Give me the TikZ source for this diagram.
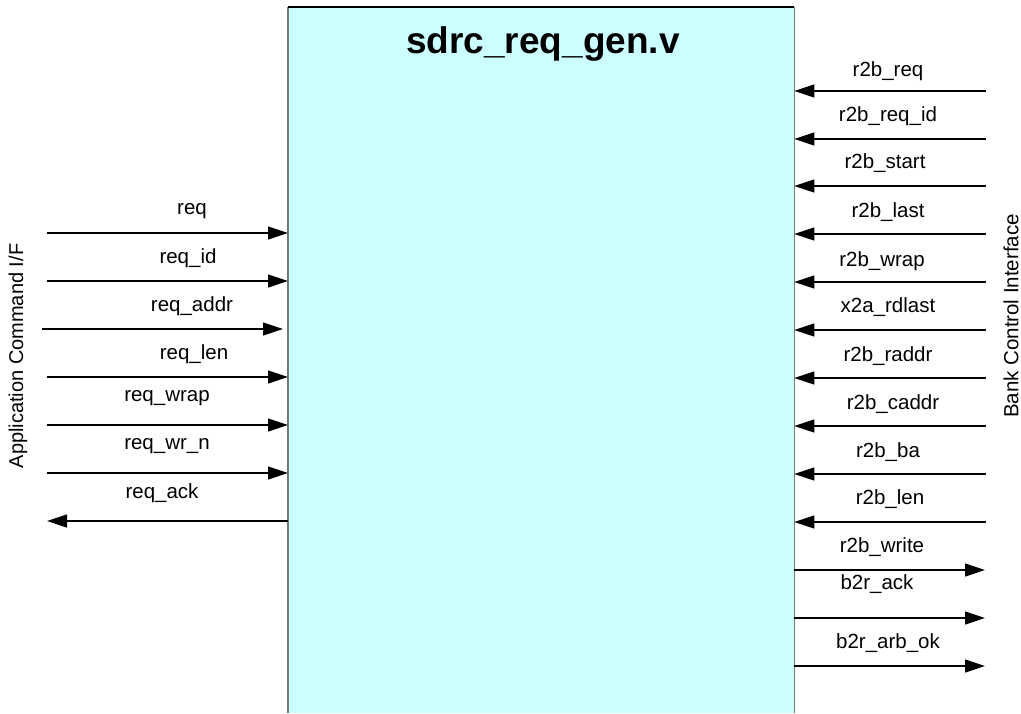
\documentclass[tikz,border=0pt]{standalone}
\usepackage{fontspec}
\setmainfont{Liberation Sans}
\usetikzlibrary{arrows.meta}
\definecolor{blkfill}{HTML}{CCFFFF}
\definecolor{blkedge}{HTML}{6F7B7B}
\begin{document}
\begin{tikzpicture}[x=1pt,y=-1pt,
  sig/.style={line width=1.2pt,-{Triangle[length=20pt,width=13pt]}},
  lbl/.style={font=\fontsize{20.5}{24}\selectfont,inner sep=0pt},
  side/.style={font=\fontsize{20.5}{24}\selectfont,inner sep=0pt,rotate=90}]
\useasboundingbox (0,0) rectangle (1021,713);
\node[fill=blkfill,draw=none,inner sep=0pt,minimum width=506pt,minimum height=706pt,anchor=north west] (blk) at (288,7) {};
\draw[blkedge,line width=1.5pt] (blk.south west) -- (blk.north west);
\draw[blkedge,line width=1.5pt] (blk.south east) -- (blk.north east);
\draw[black,line width=1.5pt] (blk.north west) -- (blk.north east);
\node[font=\fontsize{37}{40}\selectfont\bfseries,inner sep=0pt] (title) at (543,44) {sdrc\_req\_gen.v};
% left side
\coordinate (a1) at (47,233);
\coordinate (a2) at (47,281);
\coordinate (a3) at (42,329);
\coordinate (a4) at (47,377);
\coordinate (a5) at (47,425);
\coordinate (a6) at (47,473);
\coordinate (a7) at (47,521);
\coordinate (a3e) at (283,329);
\draw[sig] (a1) -- (a1 -| blk.west);
\draw[sig] (a2) -- (a2 -| blk.west);
\draw[sig] (a3) -- (a3e);
\draw[sig] (a4) -- (a4 -| blk.west);
\draw[sig] (a5) -- (a5 -| blk.west);
\draw[sig] (a6) -- (a6 -| blk.west);
\draw[sig] (a7 -| blk.west) -- (a7);
\node[lbl] (la1) at (192,211) {req};
\node[lbl] (la2) at (188,258) {req\_id};
\node[lbl] (la3) at (192,306) {req\_addr};
\node[lbl] (la4) at (194,354) {req\_len};
\node[lbl] (la5) at (167,398) {req\_wrap};
\node[lbl] (la6) at (167,446) {req\_wr\_n};
\node[lbl] (la7) at (162,493) {req\_ack};
\node[side,font=\fontsize{20}{24}\selectfont] (lside) at (18,356) {Application Command I/F};
% right side
\coordinate (b1) at (986,91);
\coordinate (b2) at (986,139);
\coordinate (b3) at (986,186);
\coordinate (b4) at (986,234);
\coordinate (b5) at (986,282);
\coordinate (b6) at (986,330);
\coordinate (b7) at (986,378);
\coordinate (b8) at (986,426);
\coordinate (b9) at (986,474);
\coordinate (b10) at (986,522);
\coordinate (c1) at (985,570);
\coordinate (c2) at (985,618);
\coordinate (c3) at (985,666);
\foreach \i in {1,...,10} {\draw[sig] (b\i) -- (b\i -| blk.east);}
\foreach \i in {1,2,3} {\draw[sig] (c\i -| blk.east) -- (c\i);}
\node[lbl] (lb1) at (888,71) {r2b\_req};
\node[lbl] (lb2) at (888,116) {r2b\_req\_id};
\node[lbl] (lb3) at (885,163) {r2b\_start};
\node[lbl] (lb4) at (888,212) {r2b\_last};
\node[lbl] (lb5) at (882,261) {r2b\_wrap};
\node[lbl] (lb6) at (888,307) {x2a\_rdlast};
\node[lbl] (lb7) at (888,356) {r2b\_raddr};
\node[lbl] (lb8) at (893,404) {r2b\_caddr};
\node[lbl] (lb9) at (888,452) {r2b\_ba};
\node[lbl] (lb10) at (890,499) {r2b\_len};
\node[lbl] (lc1) at (882,547) {r2b\_write};
\node[lbl] (lc2) at (877,584) {b2r\_ack};
\node[lbl] (lc3) at (888,643) {b2r\_arb\_ok};
\node[side] (rside) at (1011,316) {Bank Control Interface};
\end{tikzpicture}
\end{document}
